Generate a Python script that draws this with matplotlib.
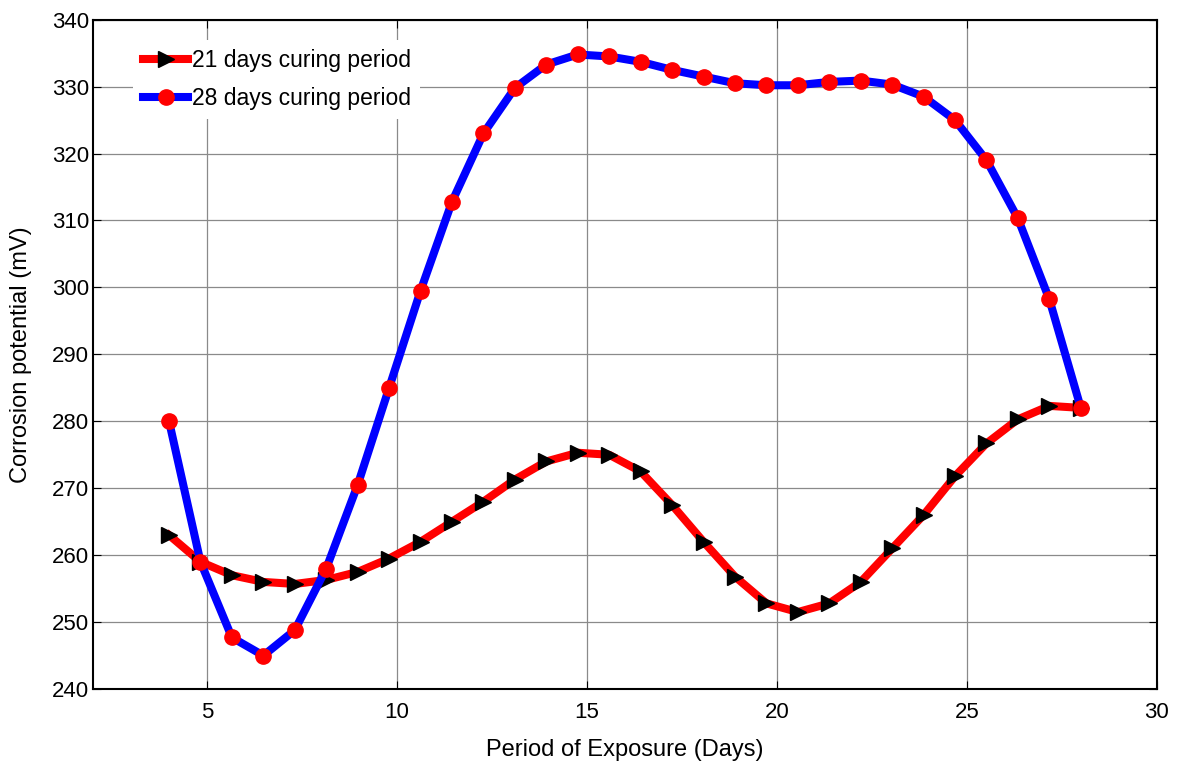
import numpy as np
import matplotlib.pyplot as plt

plt.rcParams['font.family'] = ['Liberation Sans', 'DejaVu Sans']

# exposure period (days)
days = np.linspace(4, 28, 30)

# 21 days curing period
cure21 = [263.0, 259.0, 257.0, 256.0, 255.7, 256.3, 257.5, 259.5, 262.0, 265.0,
          268.0, 271.3, 274.0, 275.3, 275.0, 272.5, 267.5, 262.0, 256.8, 252.8,
          251.5, 252.8, 256.0, 261.0, 266.0, 271.8, 276.7, 280.3, 282.3, 282.0]

# 28 days curing period
cure28 = [280.0, 259.0, 247.7, 245.0, 248.8, 258.0, 270.5, 285.0, 299.5, 312.8,
          323.0, 329.8, 333.3, 334.8, 334.5, 333.7, 332.5, 331.5, 330.5, 330.2,
          330.2, 330.7, 330.9, 330.3, 328.5, 325.0, 319.0, 310.3, 298.2, 282.0]

fig = plt.figure(figsize=(11.78, 7.65), dpi=100)
ax = fig.add_axes([0.079, 0.0993, 0.903, 0.875])

ax.plot(days, cure21, color='red', lw=5.8, marker='>', ms=12,
        mfc='black', mec='black', label='21 days curing period', zorder=3)
ax.plot(days, cure28, color='blue', lw=5.8, marker='o', ms=11,
        mfc='red', mec='red', label='28 days curing period', zorder=4)

ax.set_xlim(2, 30)
ax.set_ylim(240, 340)
ax.set_xticks([5, 10, 15, 20, 25, 30])
ax.set_yticks(range(240, 341, 10))
ax.grid(True, color='#8a8a8a', lw=0.9)
ax.set_axisbelow(True)
ax.tick_params(direction='in', top=True, right=True, length=6, labelsize=16)
ax.tick_params(axis='x', pad=9)
ax.tick_params(axis='y', pad=3)
for s in ax.spines.values():
    s.set_linewidth(1.5)

ax.set_xlabel('Period of Exposure (Days)', fontsize=17, labelpad=12)
ax.set_ylabel('Corrosion potential (mV)', fontsize=17, labelpad=14)

leg = ax.legend(loc='upper left', bbox_to_anchor=(0.038, 0.97), borderaxespad=0,
                fontsize=16.5, frameon=True, framealpha=1, edgecolor='none',
                fancybox=False, handlelength=2.0, handletextpad=0.15,
                labelspacing=0.65, borderpad=0.4)

fig.savefig('out.png')
